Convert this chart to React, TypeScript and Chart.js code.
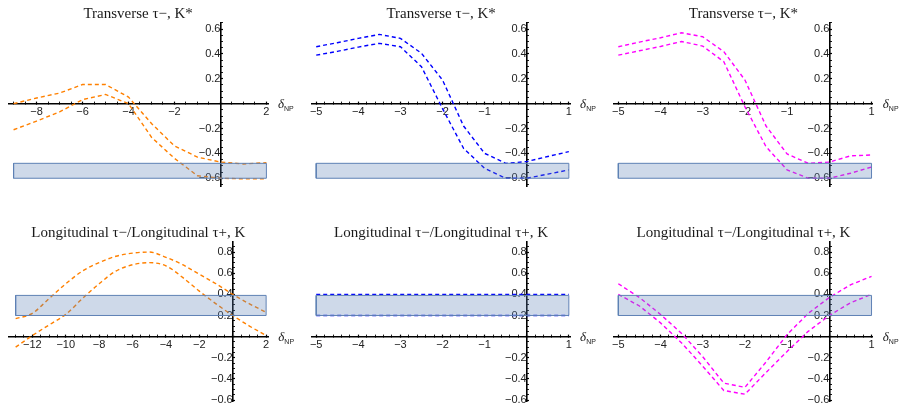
import React, { useEffect, useRef } from "react";
import { Chart, registerables } from "chart.js";

Chart.register(...registerables);
Chart.defaults.font.family = '"Liberation Sans", Arial, sans-serif';

// ---------------- data ----------------
// Top-left panel (orange), transverse
const xTransOrange = [-9, -8, -7, -6, -5, -4, -3, -2, -1, 0, 1, 2];
const transOrangeUpper = [0.0, 0.045, 0.085, 0.154, 0.154, 0.053, -0.16, -0.34, -0.43, -0.47, -0.485, -0.475];
const transOrangeLower = [-0.21, -0.14, -0.067, 0.032, 0.074, 0.0, -0.27, -0.44, -0.58, -0.6, -0.605, -0.605];

// Panels with x from -5 to 1 in steps of 0.5
const xHalf = [-5, -4.5, -4, -3.5, -3, -2.5, -2, -1.5, -1, -0.5, 0, 0.5, 1];
const transBlueUpper = [0.458, 0.49, 0.525, 0.557, 0.525, 0.405, 0.19, -0.18, -0.4, -0.48, -0.466, -0.425, -0.386];
const transBlueLower = [0.39, 0.42, 0.455, 0.485, 0.458, 0.297, -0.04, -0.36, -0.52, -0.6, -0.6, -0.567, -0.533];
const transMagentaUpper = [0.458, 0.495, 0.53, 0.57, 0.538, 0.418, 0.19, -0.18, -0.405, -0.48, -0.47, -0.42, -0.413];
const transMagentaLower = [0.39, 0.425, 0.46, 0.5, 0.463, 0.337, -0.025, -0.346, -0.533, -0.6, -0.6, -0.56, -0.51];

// Bottom-left panel (orange), longitudinal
const xLongOrange = [-13, -12, -11, -10, -9, -8, -7, -6, -5, -4, -3, -2, -1, 0, 1, 2];
const longOrangeUpper = [0.17, 0.22, 0.36, 0.5, 0.62, 0.7, 0.76, 0.79, 0.8, 0.75, 0.68, 0.59, 0.5, 0.4, 0.31, 0.23];
const longOrangeLower = [-0.1, 0.01, 0.11, 0.21, 0.36, 0.5, 0.62, 0.68, 0.7, 0.67, 0.56, 0.43, 0.31, 0.2, 0.1, 0.01];

const longBlueUpper = [0.4, 0.4, 0.4, 0.4, 0.4, 0.4, 0.4, 0.4, 0.4, 0.4, 0.4, 0.4, 0.4];
const longBlueLower = [0.2, 0.2, 0.2, 0.2, 0.2, 0.2, 0.2, 0.2, 0.2, 0.2, 0.2, 0.2, 0.2];
const longMagentaUpper = [0.5, 0.37, 0.21, 0.03, -0.19, -0.44, -0.48, -0.24, 0.02, 0.22, 0.37, 0.49, 0.57];
const longMagentaLower = [0.4, 0.29, 0.13, -0.06, -0.28, -0.51, -0.545, -0.34, -0.14, 0.05, 0.2, 0.32, 0.4];

// Experimental bands [low, high]
const bandTransverse = [-0.6, -0.48];
const bandLongitudinal = [0.2, 0.39];

// Tick labels
const xTicksTransOrange = [-8, -6, -4, -2, 2];
const xTicksLongOrange = [-12, -10, -8, -6, -4, -2, 2];
const xTicksHalf = [-5, -4, -3, -2, -1, 1];
const yTicksTop = [-0.6, -0.4, -0.2, 0.2, 0.4, 0.6];
const yTicksBottom = [-0.6, -0.4, -0.2, 0.2, 0.4, 0.6, 0.8];

const titleTrans = "Transverse τ−, K*";
const titleLong = "Longitudinal τ−/Longitudinal τ+, K";

const ORANGE = "#FF8000";
const BLUE = "#0000FF";
const MAGENTA = "#FF00FF";

// ---------------- helpers ----------------
type Series = { xs: number[]; ys: number[]; color: string; smooth?: boolean };
type Spec = {
  title: string;
  left: number; top: number; width: number; height: number;
  pad: { left: number; right: number; top: number; bottom: number };
  xMin: number; xMax: number; yMin: number; yMax: number;
  xMajor: number[]; xMinorStep: number;
  yMajor: number[]; yMinorStep: number;
  series: Series[];
  band: number[];
  bandX: number[];
};

function makeTicks(min: number, max: number, step: number, majors: number[]) {
  const out: { value: number; major: boolean }[] = [];
  const i0 = Math.ceil(min / step - 1e-9);
  const i1 = Math.floor(max / step + 1e-9);
  for (let i = i0; i <= i1; i++) {
    const v = Math.round(i * step * 1e6) / 1e6;
    const isMajor = majors.some((m) => Math.abs(m - v) < 1e-6) || Math.abs(v) < 1e-9;
    out.push({ value: v, major: isMajor });
  }
  return out;
}

function fmt(v: number) {
  const a = Math.abs(v);
  const s = String(Math.round(a * 1000) / 1000);
  return (v < 0 ? "\u2212" : "") + s;
}

const deltaLabel = {
  id: "deltaNP",
  afterDraw(chart: any) {
    const { ctx, chartArea } = chart;
    const y0 = chart.scales.y.getPixelForValue(0);
    const x = chartArea.right + 10;
    ctx.save();
    ctx.fillStyle = "#1a1a1a";
    ctx.textBaseline = "alphabetic";
    ctx.textAlign = "left";
    ctx.font = 'italic 13px "Liberation Serif", serif';
    ctx.fillText("δ", x, y0 + 4);
    const w = ctx.measureText("δ").width;
    ctx.font = '7px "Liberation Sans", sans-serif';
    ctx.fillText("NP", x + w, y0 + 7);
    ctx.restore();
  },
};

function Panel({ spec }: { spec: Spec }) {
  const ref = useRef<HTMLCanvasElement>(null);
  useEffect(() => {
    if (!ref.current) return;
    const [lo, hi] = spec.band;
    const [bx0, bx1] = spec.bandX;
    const bandFill = "rgba(94,129,181,0.3)";
    const bandLine = "rgb(94,129,181)";
    const datasets: any[] = [
      {
        data: [
          { x: bx0, y: lo }, { x: bx1, y: lo }, { x: bx1, y: hi }, { x: bx0, y: hi }, { x: bx0, y: lo },
        ],
        borderColor: bandLine, borderWidth: 1, pointRadius: 0, fill: false, tension: 0,
      },
      { data: [{ x: bx0, y: lo }, { x: bx1, y: lo }], borderWidth: 0, borderColor: "rgba(0,0,0,0)", pointRadius: 0, fill: false },
      { data: [{ x: bx0, y: hi }, { x: bx1, y: hi }], borderWidth: 0, borderColor: "rgba(0,0,0,0)", pointRadius: 0, fill: "-1", backgroundColor: bandFill },
    ];
    spec.series.forEach((s) => {
      datasets.push({
        data: s.xs.map((x, i) => ({ x, y: s.ys[i] })),
        borderColor: s.color,
        borderWidth: 1.4,
        borderDash: [4, 3],
        pointRadius: 0,
        fill: false,
        tension: 0,
        cubicInterpolationMode: s.smooth ? "monotone" : "default",
      });
    });
    const xt = makeTicks(spec.xMin, spec.xMax, spec.xMinorStep, spec.xMajor);
    const yt = makeTicks(spec.yMin, spec.yMax, spec.yMinorStep, spec.yMajor);
    const tickFont = { family: '"Liberation Sans", Arial, sans-serif', size: 11 };
    const labelFor = (majors: number[]) => (v: any) => {
      const n = Number(v);
      return majors.some((m) => Math.abs(m - n) < 1e-6) ? fmt(n) : "";
    };
    const grid = {
      display: true,
      drawOnChartArea: false,
      drawTicks: true,
      tickLength: -3,
      tickColor: "#000",
      tickWidth: (c: any) => (c.tick && c.tick.major ? 1.2 : 0.9),
    };
    const chart = new Chart(ref.current, {
      type: "line",
      data: { datasets },
      plugins: [deltaLabel],
      options: {
        animation: false,
        responsive: false,
        events: [],
        layout: { padding: spec.pad },
        plugins: {
          legend: { display: false },
          tooltip: { enabled: false },
          title: {
            display: true,
            text: spec.title,
            color: "#1a1a1a",
            font: { family: '"Liberation Serif", serif', size: 15, weight: "normal", lineHeight: 1 },
            padding: { top: 1, bottom: 1.4 },
          },
        },
        scales: {
          x: {
            type: "linear",
            min: spec.xMin,
            max: spec.xMax,
            position: { y: 0 },
            afterBuildTicks: (sc: any) => { sc.ticks = xt.map((t) => ({ ...t })); },
            ticks: {
              autoSkip: false, maxRotation: 0, minRotation: 0, padding: 5,
              color: "#222", font: tickFont, callback: labelFor(spec.xMajor),
            },
            grid,
            border: { display: true, color: "#000", width: 1.6 },
          },
          y: {
            type: "linear",
            min: spec.yMin,
            max: spec.yMax,
            position: { x: 0 },
            afterBuildTicks: (sc: any) => { sc.ticks = yt.map((t) => ({ ...t })); },
            ticks: {
              autoSkip: false, padding: 6,
              color: "#222", font: tickFont, callback: labelFor(spec.yMajor),
            },
            grid,
            border: { display: true, color: "#000", width: 1.6 },
          },
        },
      } as any,
    });
    return () => chart.destroy();
  }, [spec]);
  return (
    <canvas
      ref={ref}
      width={spec.width}
      height={spec.height}
      style={{ position: "absolute", left: spec.left, top: spec.top, width: spec.width, height: spec.height }}
    />
  );
}

const topPad = (l: number, r: number) => ({ left: l, right: r, top: 5.3, bottom: 13.3 });
const botPad = (l: number, r: number) => ({ left: l, right: r, top: 24.3, bottom: 10 });

const panels: Spec[] = [
  {
    title: titleTrans, left: 0, top: 0, width: 300, height: 200, pad: topPad(8.3, 32),
    xMin: -9.23, xMax: 2.07, yMin: -0.668, yMax: 0.651,
    xMajor: xTicksTransOrange, xMinorStep: 0.5, yMajor: yTicksTop, yMinorStep: 0.05,
    series: [
      { xs: xTransOrange, ys: transOrangeUpper, color: ORANGE },
      { xs: xTransOrange, ys: transOrangeLower, color: ORANGE },
    ],
    band: bandTransverse, bandX: [-9, 2],
  },
  {
    title: titleTrans, left: 300, top: 0, width: 300, height: 200, pad: topPad(12, 29.9),
    xMin: -5.1, xMax: 1.03, yMin: -0.668, yMax: 0.651,
    xMajor: xTicksHalf, xMinorStep: 0.2, yMajor: yTicksTop, yMinorStep: 0.05,
    series: [
      { xs: xHalf, ys: transBlueUpper, color: BLUE },
      { xs: xHalf, ys: transBlueLower, color: BLUE },
    ],
    band: bandTransverse, bandX: [-5, 1],
  },
  {
    title: titleTrans, left: 600, top: 0, width: 300, height: 200, pad: topPad(14.1, 27.2),
    xMin: -5.1, xMax: 1.03, yMin: -0.668, yMax: 0.651,
    xMajor: xTicksHalf, xMinorStep: 0.2, yMajor: yTicksTop, yMinorStep: 0.05,
    series: [
      { xs: xHalf, ys: transMagentaUpper, color: MAGENTA },
      { xs: xHalf, ys: transMagentaLower, color: MAGENTA },
    ],
    band: bandTransverse, bandX: [-5, 1],
  },
  {
    title: titleLong, left: 0, top: 200, width: 300, height: 214, pad: botPad(8.3, 31.7),
    xMin: -13.44, xMax: 2.13, yMin: -0.613, yMax: 0.898,
    xMajor: xTicksLongOrange, xMinorStep: 0.5, yMajor: yTicksBottom, yMinorStep: 0.05,
    series: [
      { xs: xLongOrange, ys: longOrangeUpper, color: ORANGE, smooth: true },
      { xs: xLongOrange, ys: longOrangeLower, color: ORANGE, smooth: true },
    ],
    band: bandLongitudinal, bandX: [-13, 2],
  },
  {
    title: titleLong, left: 300, top: 200, width: 300, height: 214, pad: botPad(12, 29.9),
    xMin: -5.1, xMax: 1.03, yMin: -0.613, yMax: 0.898,
    xMajor: xTicksHalf, xMinorStep: 0.2, yMajor: yTicksBottom, yMinorStep: 0.05,
    series: [
      { xs: xHalf, ys: longBlueUpper, color: BLUE },
      { xs: xHalf, ys: longBlueLower, color: BLUE },
    ],
    band: bandLongitudinal, bandX: [-5, 1],
  },
  {
    title: titleLong, left: 600, top: 200, width: 300, height: 214, pad: botPad(14.1, 27.2),
    xMin: -5.1, xMax: 1.03, yMin: -0.613, yMax: 0.898,
    xMajor: xTicksHalf, xMinorStep: 0.2, yMajor: yTicksBottom, yMinorStep: 0.05,
    series: [
      { xs: xHalf, ys: longMagentaUpper, color: MAGENTA },
      { xs: xHalf, ys: longMagentaLower, color: MAGENTA },
    ],
    band: bandLongitudinal, bandX: [-5, 1],
  },
];

export default function App() {
  return (
    <div style={{ position: "fixed", left: 0, top: 0, width: 900, height: 409, overflow: "hidden", background: "#fff" }}>
      {panels.map((p, i) => (
        <Panel key={i} spec={p} />
      ))}
    </div>
  );
}
